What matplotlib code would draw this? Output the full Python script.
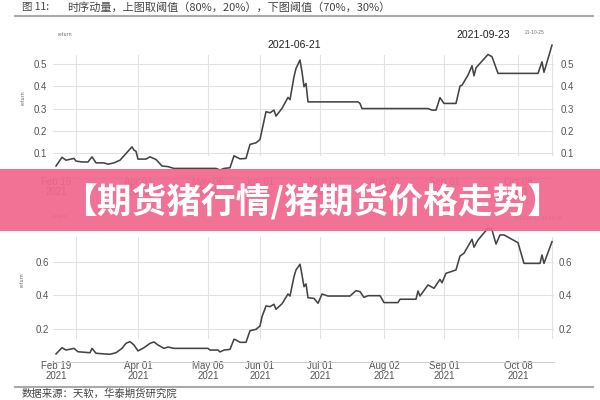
import matplotlib
matplotlib.use("Agg")
import matplotlib.pyplot as plt
import matplotlib.dates as mdates
import pandas as pd
from matplotlib.patches import Rectangle

plt.rcParams['font.family'] = ['Noto Sans CJK SC', 'DejaVu Sans']

# ---------------- data ----------------
top_dates = ["2021-02-19", "2021-02-22", "2021-02-24", "2021-02-28", "2021-03-01", "2021-03-04",
             "2021-03-07", "2021-03-09", "2021-03-11", "2021-03-15", "2021-03-17", "2021-03-20",
             "2021-03-23", "2021-03-26", "2021-03-29", "2021-03-30", "2021-03-31", "2021-04-01",
             "2021-04-05", "2021-04-07", "2021-04-10", "2021-04-13", "2021-04-16", "2021-04-19",
             "2021-05-10", "2021-05-12", "2021-05-14", "2021-05-17", "2021-05-19", "2021-05-20",
             "2021-05-22", "2021-05-25", "2021-05-27", "2021-05-30", "2021-06-01", "2021-06-02",
             "2021-06-04", "2021-06-06", "2021-06-08", "2021-06-09", "2021-06-12", "2021-06-15",
             "2021-06-16", "2021-06-18", "2021-06-19", "2021-06-21", "2021-06-22", "2021-06-23",
             "2021-06-24", "2021-06-25", "2021-07-20", "2021-07-21", "2021-07-22", "2021-08-24",
             "2021-08-26", "2021-08-28", "2021-08-30", "2021-09-01", "2021-09-07", "2021-09-09",
             "2021-09-10", "2021-09-13", "2021-09-15", "2021-09-16", "2021-09-17", "2021-09-23",
             "2021-09-25", "2021-09-28", "2021-10-18", "2021-10-20", "2021-10-21", "2021-10-25"]
top_values = [0.042, 0.081, 0.068, 0.076, 0.064, 0.060,
              0.060, 0.083, 0.056, 0.056, 0.050, 0.056,
              0.068, 0.098, 0.128, 0.113, 0.108, 0.073,
              0.073, 0.083, 0.071, 0.042, 0.039, 0.031,
              0.031, 0.024, 0.031, 0.034, 0.088, 0.083,
              0.074, 0.076, 0.139, 0.146, 0.161, 0.203,
              0.286, 0.281, 0.293, 0.266, 0.301, 0.350,
              0.340, 0.443, 0.480, 0.518, 0.465, 0.398,
              0.413, 0.330, 0.330, 0.323, 0.300, 0.300,
              0.293, 0.293, 0.349, 0.323, 0.323, 0.401,
              0.405, 0.450, 0.492, 0.447, 0.483, 0.543,
              0.533, 0.458, 0.458, 0.510, 0.463, 0.585]

bot_dates = ["2021-02-19", "2021-02-22", "2021-02-24", "2021-02-28", "2021-03-02", "2021-03-08",
             "2021-03-09", "2021-03-11", "2021-03-15", "2021-03-18", "2021-03-21", "2021-03-24",
             "2021-03-26", "2021-03-28", "2021-03-30", "2021-04-01", "2021-04-04", "2021-04-07",
             "2021-04-09", "2021-04-11", "2021-04-14", "2021-04-16", "2021-04-19", "2021-05-06",
             "2021-05-07", "2021-05-11", "2021-05-12", "2021-05-14", "2021-05-17", "2021-05-19",
             "2021-05-20", "2021-05-22", "2021-05-25", "2021-05-27", "2021-05-30", "2021-06-01",
             "2021-06-02", "2021-06-04", "2021-06-06", "2021-06-08", "2021-06-09", "2021-06-12",
             "2021-06-15", "2021-06-16", "2021-06-18", "2021-06-19", "2021-06-21", "2021-06-22",
             "2021-06-23", "2021-06-24", "2021-06-25", "2021-06-28", "2021-06-30", "2021-07-02",
             "2021-07-05", "2021-07-16", "2021-07-19", "2021-07-21", "2021-07-23", "2021-07-25",
             "2021-07-31", "2021-08-02", "2021-08-09", "2021-08-10", "2021-08-18", "2021-08-19",
             "2021-08-20", "2021-08-24", "2021-08-27", "2021-08-30", "2021-08-31", "2021-09-02",
             "2021-09-07", "2021-09-09", "2021-09-11", "2021-09-15", "2021-09-16", "2021-09-18",
             "2021-09-23", "2021-09-25", "2021-09-27", "2021-09-29", "2021-10-01", "2021-10-08",
             "2021-10-11", "2021-10-19", "2021-10-20", "2021-10-21", "2021-10-25"]
bot_values = [0.052, 0.089, 0.075, 0.085, 0.065, 0.059,
              0.085, 0.056, 0.052, 0.050, 0.059, 0.085,
              0.115, 0.125, 0.105, 0.070, 0.089, 0.115,
              0.123, 0.105, 0.085, 0.093, 0.085, 0.085,
              0.075, 0.075, 0.064, 0.075, 0.079, 0.139,
              0.135, 0.121, 0.121, 0.190, 0.198, 0.218,
              0.273, 0.337, 0.333, 0.347, 0.317, 0.350,
              0.408, 0.396, 0.511, 0.551, 0.585, 0.521,
              0.452, 0.468, 0.386, 0.382, 0.353, 0.408,
              0.396, 0.396, 0.428, 0.422, 0.388, 0.398,
              0.398, 0.357, 0.357, 0.377, 0.377, 0.426,
              0.396, 0.462, 0.442, 0.495, 0.475, 0.531,
              0.551, 0.634, 0.650, 0.733, 0.686, 0.729,
              0.799, 0.789, 0.705, 0.759, 0.759, 0.713,
              0.590, 0.590, 0.640, 0.590, 0.719]

tick_dates = ["2021-02-19", "2021-04-01", "2021-05-06", "2021-06-01", "2021-07-01",
              "2021-08-02", "2021-09-01", "2021-10-08"]
tick_labels = ["Feb 19\n2021", "Apr 01\n2021", "May 06\n2021", "Jun 01\n2021", "Jul 01\n2021",
               "Aug 02\n2021", "Sep 01\n2021", "Oct 08\n2021"]
grid_dates = ["2021-03-01", "2021-04-01", "2021-05-06", "2021-06-01", "2021-07-01",
              "2021-08-02", "2021-09-01", "2021-10-08", "2021-10-25"]
top_yticks = [0.1, 0.2, 0.3, 0.4, 0.5]
bot_yticks = [0.2, 0.4, 0.6]

header_num = "图 11:"
header_text = "时序动量，上图取阈值（80%，20%），下图阈值（70%，30%）"
source_text = "数据来源：天软，华泰期货研究院"
banner_text = "【期货猪行情/猪期货价格走势】"

# ---------------- figure ----------------
W, H = 600, 400
fig = plt.figure(figsize=(6, 4), dpi=100)
fig.patch.set_facecolor("white")

def px_axes(x0, y0, x1, y1):
    return fig.add_axes([x0 / W, 1 - y1 / H, (x1 - x0) / W, (y1 - y0) / H])

start = mdates.date2num(pd.Timestamp("2021-02-19"))
xlim = (start - 1.5, start + 249)

latin = ["Liberation Sans", "DejaVu Sans"]

def style_axes(ax, yticks, ylim, vmin, vmax, left_pad):
    ax.set_xlim(*xlim)
    ax.set_ylim(*ylim)
    for s in ["top", "left", "right"]:
        ax.spines[s].set_visible(False)
    ax.spines["bottom"].set_color("#cccccc")
    ax.spines["bottom"].set_linewidth(0.8)
    ax.set_yticks(yticks)
    ax.set_yticklabels([f"{v:g}" for v in yticks])
    ax.set_xticks(mdates.date2num(pd.to_datetime(tick_dates)))
    ax.set_xticklabels(tick_labels, linespacing=1.0)
    ax.tick_params(axis="y", length=0, labelright=True, labelleft=True,
                   labelcolor="#555555", pad=left_pad)
    ax.tick_params(axis="x", length=0, labelcolor="#555555", pad=-1)
    for lab in ax.get_xticklabels() + ax.get_yticklabels():
        lab.set_fontfamily(latin)
        lab.set_fontsize(7)
    ax.grid(axis="y", color="#e2e2e2", linewidth=0.8)
    ax.set_axisbelow(True)
    for d in grid_dates:
        ax.axvline(mdates.date2num(pd.Timestamp(d)), ymin=vmin, ymax=vmax,
                   color="#e2e2e2", linewidth=0.8, zorder=0)

# top chart
ax1 = px_axes(53, 40, 554, 178)
style_axes(ax1, top_yticks, (-0.012, 0.608), 0.167, 0.891, 4.5)
ax1.plot(mdates.date2num(pd.to_datetime(top_dates)), top_values, color="#444444", lw=1.15)

# bottom chart
ax2 = px_axes(53, 224, 554, 362)
style_axes(ax2, bot_yticks, (0.004, 0.824), 0.174, 0.906, 3)
ax2.plot(mdates.date2num(pd.to_datetime(bot_dates)), bot_values, color="#444444", lw=1.15)

# annotations (top)
fig.text(294 / W, 1 - 45 / H, "2021-06-21", ha="center", va="center", fontsize=7.5,
         color="#222222", family=latin)
fig.text(483 / W, 1 - 35 / H, "2021-09-23", ha="center", va="center", fontsize=7.5,
         color="#222222", family=latin)
fig.text(535 / W, 1 - 32 / H, "21-10-25", ha="center", va="center", fontsize=3.5,
         color="#777777", family=latin)
fig.text(65 / W, 1 - 35 / H, "return", ha="center", va="center", fontsize=3.5, color="#666666")
fig.text(23 / W, 1 - 98 / H, "return", ha="center", va="center", fontsize=3.5,
         color="#666666", rotation=90)
# annotations (bottom, mostly hidden under the banner)
fig.text(60 / W, 1 - 217 / H, "return", ha="center", va="center", fontsize=3.5, color="#666666")
fig.text(538 / W, 1 - 219 / H, "2021-09-23  21-10-25", ha="center", va="center", fontsize=3.5,
         color="#777777", family=latin)
fig.text(22 / W, 1 - 280 / H, "return", ha="center", va="center", fontsize=3.5,
         color="#666666", rotation=90)

# header and source
fig.text(22 / W, 1 - 7 / H, header_num, ha="left", va="center", fontsize=7.5, color="#444444")
fig.text(67 / W, 1 - 7 / H, header_text, ha="left", va="center", fontsize=8, color="#444444")
fig.add_artist(plt.Line2D([15 / W, 593 / W], [1 - 16 / H, 1 - 16 / H], color="#aaaaaa", lw=1.5))
fig.add_artist(plt.Line2D([15 / W, 593 / W], [1 - 387 / H, 1 - 387 / H], color="#aaaaaa", lw=1.5))
fig.text(22 / W, 1 - 394 / H, source_text, ha="left", va="center", fontsize=7.5, color="#444444")

# banner overlay
fig.patches.append(Rectangle((0, 1 - 231 / H), 1, 62 / H, transform=fig.transFigure,
                             facecolor="#F0668B", alpha=0.92, edgecolor="none", zorder=10))
fig.text(312 / W, 1 - 201 / H, banner_text, ha="center", va="center", fontsize=25,
         fontweight="bold", color="white", zorder=11)

fig.savefig("out.png", dpi=100)
